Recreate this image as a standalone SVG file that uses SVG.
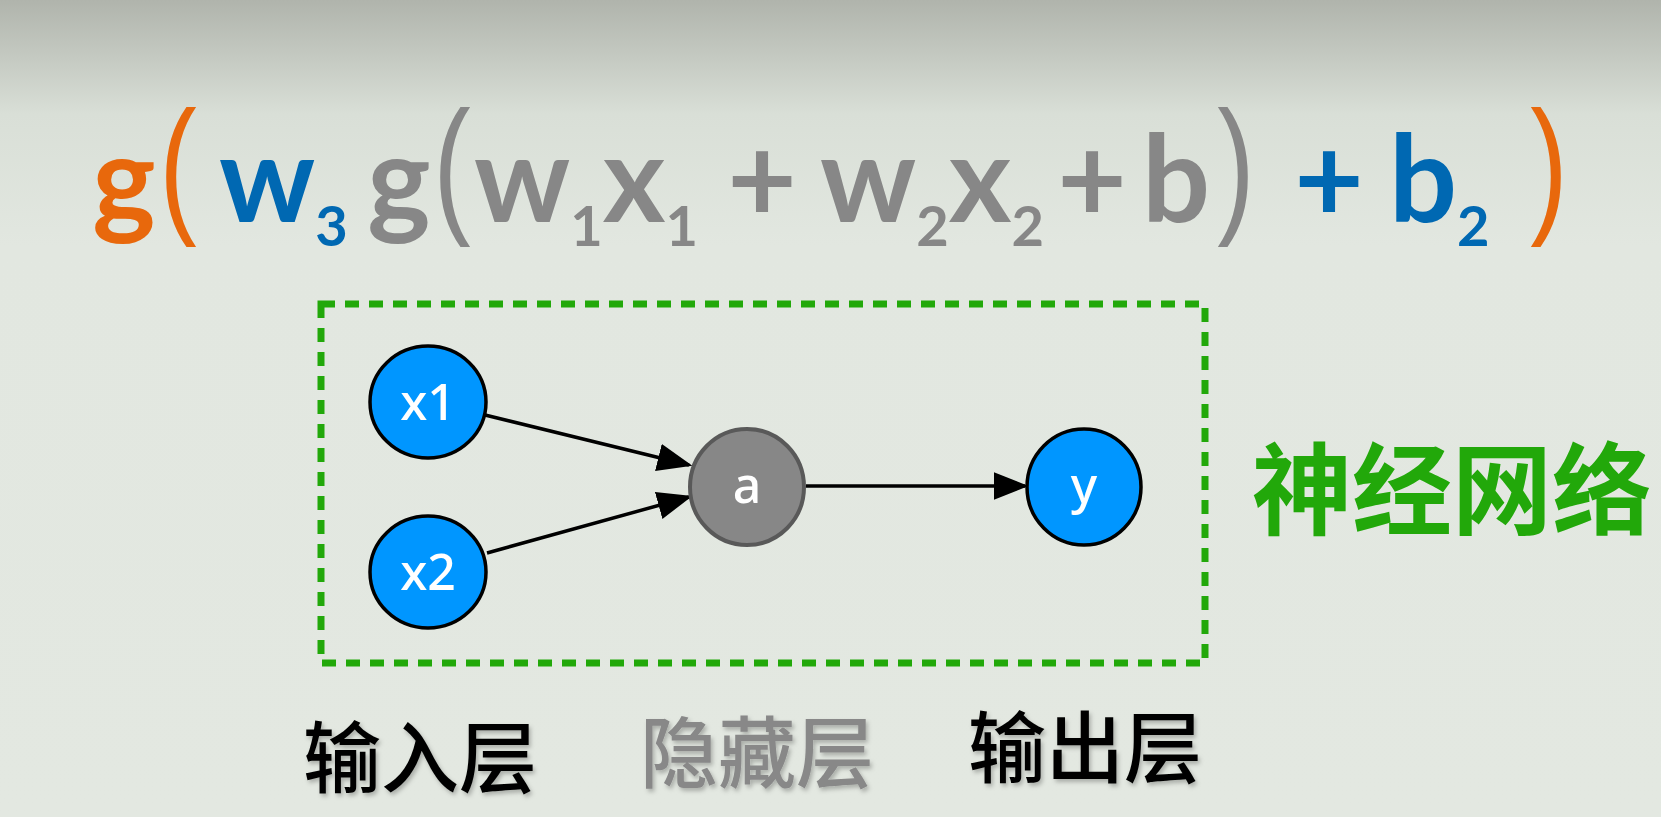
<svg xmlns="http://www.w3.org/2000/svg" width="1661" height="817" viewBox="0 0 1661 817">
<defs>
<linearGradient id="bg" x1="0" y1="0" x2="0" y2="1">
<stop offset="0" stop-color="#b0b4ac"/>
<stop offset="0.14" stop-color="#d9dfd7"/>
<stop offset="0.3" stop-color="#e2e7e0"/>
<stop offset="1" stop-color="#e3e8e1"/>
</linearGradient>
<marker id="arr" markerWidth="10" markerHeight="8" refX="9" refY="4" orient="auto" markerUnits="strokeWidth">
<path d="M0,0 L10,4 L0,8 z" fill="#000"/>
</marker>
<filter id="sh" x="-10%" y="-10%" width="120%" height="130%">
<feDropShadow dx="2" dy="3" stdDeviation="2" flood-color="#000" flood-opacity="0.25"/>
</filter>
</defs>
<style>
.f{font-family:"Lato","Noto Sans",sans-serif;font-weight:bold;font-size:120px;text-anchor:middle}
.v{font-family:"Lato","Noto Sans",sans-serif;font-weight:bold;font-size:120px;text-anchor:start}
.sub{font-size:56px}
.p{font-family:"Liberation Sans",sans-serif;font-size:150px;text-anchor:middle}
.or{fill:#e8680c}.bl{fill:#0068b2}.gr{fill:#878787}
.node{fill:#0096ff;stroke:#000;stroke-width:3.5}
.hid{fill:#878787;stroke:#595959;stroke-width:4}
.nl{font-family:"Noto Sans",sans-serif;font-weight:500;font-size:50px;fill:#fff;text-anchor:middle}
.edge{stroke:#000;stroke-width:3.5;fill:none;marker-end:url(#arr)}
.cj{font-family:"Noto Sans CJK SC",sans-serif;font-weight:500;font-size:78px;text-anchor:middle}
</style>
<rect width="1661" height="817" fill="url(#bg)"/>
<g id="formula">
<text class="f or" x="124" y="222">g</text>
<text class="p or" transform="translate(178,216) scale(0.75,1)">(</text>
<text class="v bl" x="219" y="222">w<tspan class="sub" dy="24">3</tspan></text>
<text class="f gr" x="399" y="222">g</text>
<text class="p gr" transform="translate(452,216) scale(0.75,1)">(</text>
<text class="v gr" x="474" y="222">w<tspan class="sub" dy="24">1</tspan><tspan dy="-24">x</tspan><tspan class="sub" dy="24">1</tspan></text>
<text class="f gr" x="762" y="222">+</text>
<text class="v gr" x="820" y="222">w<tspan class="sub" dy="24">2</tspan><tspan dy="-24">x</tspan><tspan class="sub" dy="24">2</tspan></text>
<text class="f gr" x="1092" y="222">+</text>
<text class="f gr" x="1176" y="222">b</text>
<text class="p gr" transform="translate(1236,216) scale(0.75,1)">)</text>
<text class="f bl" x="1329" y="222">+</text>
<text class="v bl" x="1389" y="222">b<tspan class="sub" dy="24">2</tspan></text>
<text class="p or" transform="translate(1549,216) scale(0.75,1)">)</text>
</g>
<g id="box">
<rect x="321" y="304" width="884" height="359" fill="none" stroke="#22a80a" stroke-width="7" stroke-dasharray="14 10"/>
</g>
<g id="edges">
<line class="edge" x1="485" y1="415" x2="689" y2="465"/>
<line class="edge" x1="487" y1="553" x2="689" y2="497"/>
<line class="edge" x1="806" y1="486" x2="1025" y2="486"/>
</g>
<g id="x1">
<ellipse class="node" cx="428" cy="402" rx="58" ry="56"/>
<text class="nl" x="428" y="420">x1</text>
</g>
<g id="x2">
<ellipse class="node" cx="428" cy="572" rx="58" ry="56"/>
<text class="nl" x="428" y="590">x2</text>
</g>
<g id="a">
<ellipse class="hid" cx="747" cy="487" rx="57" ry="58"/>
<text class="nl" x="747" y="503">a</text>
</g>
<g id="y">
<ellipse class="node" cx="1084" cy="487" rx="57" ry="58"/>
<text class="nl" x="1084" y="503">y</text>
</g>
<g id="title">
<text x="1452" y="527" font-family="'Noto Sans CJK SC',sans-serif" font-weight="bold" font-size="100" fill="#22a80a" text-anchor="middle">神经网络</text>
</g>
<g id="labels" filter="url(#sh)">
<text class="cj" x="420" y="787" fill="#000">输入层</text>
<text class="cj" x="757" y="782" fill="#888">隐藏层</text>
<text class="cj" x="1085" y="777" fill="#000">输出层</text>
</g>
</svg>
